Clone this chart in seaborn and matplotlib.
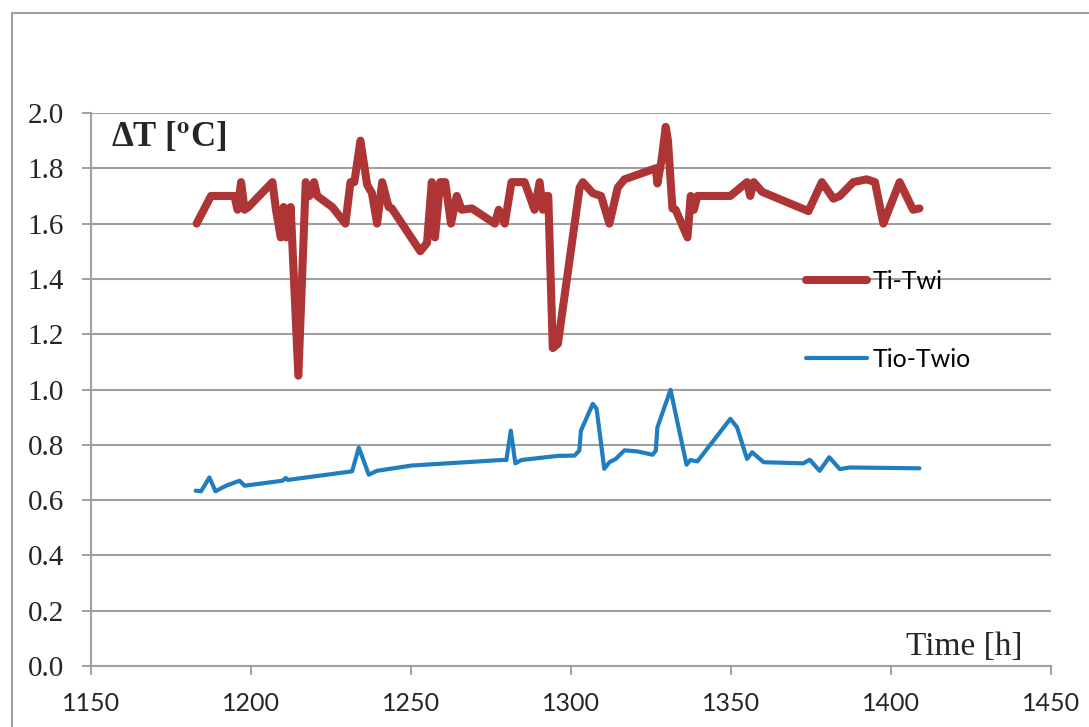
import matplotlib
matplotlib.use("Agg")
import matplotlib.pyplot as plt
import seaborn as sns
import pandas as pd
from matplotlib.patches import Rectangle

# ---- data ----
time_titwi = [1183, 1187.5, 1192.7, 1194.8, 1195.8, 1196.9, 1198, 1199.2, 1206.7, 1207.8,
              1209.3, 1210.2, 1211, 1212.4, 1214.8, 1217.1, 1218.3, 1219.7, 1220.7, 1225.4,
              1229.5, 1231.1, 1232.3, 1234.2, 1236.3, 1237.8, 1239.4, 1241, 1243, 1244,
              1252.9, 1255, 1256.5, 1257.5, 1259.1, 1260.7, 1262.5, 1264.3, 1265.8, 1269,
              1276.2, 1277.4, 1279.3, 1281.4, 1285.5, 1288.6, 1290.2, 1291.2, 1292.3, 1292.9,
              1294.3, 1295.9, 1302.7, 1303.7, 1306.8, 1309.4, 1312, 1314.6, 1316.7, 1326.5,
              1327, 1328.3, 1329.6, 1330.3, 1331.7, 1332.7, 1336.4, 1337.4, 1338.4, 1339.5,
              1349.8, 1355, 1356, 1357.1, 1359.7, 1374.2, 1378.4, 1382, 1384, 1388.2,
              1392.4, 1395, 1397.6, 1402.7, 1406.9, 1408.9]
val_titwi = [1.60, 1.70, 1.70, 1.70, 1.65, 1.75, 1.65, 1.66, 1.75, 1.65,
             1.55, 1.66, 1.55, 1.66, 1.05, 1.75, 1.70, 1.75, 1.70, 1.66,
             1.60, 1.75, 1.75, 1.90, 1.74, 1.71, 1.60, 1.75, 1.66, 1.655,
             1.50, 1.53, 1.75, 1.55, 1.75, 1.75, 1.60, 1.70, 1.65, 1.655,
             1.60, 1.65, 1.60, 1.75, 1.75, 1.65, 1.75, 1.65, 1.70, 1.70,
             1.15, 1.165, 1.73, 1.75, 1.71, 1.70, 1.60, 1.73, 1.76, 1.80,
             1.745, 1.83, 1.95, 1.90, 1.655, 1.65, 1.55, 1.70, 1.65, 1.70,
             1.70, 1.75, 1.70, 1.75, 1.715, 1.645, 1.75, 1.69, 1.70, 1.75,
             1.76, 1.75, 1.60, 1.75, 1.65, 1.655]

time_tiotwio = [1182.7, 1184.4, 1187, 1188.9, 1192.2, 1196.4, 1198, 1209.8, 1210.9, 1211.5,
                1231.6, 1233.7, 1236.8, 1239.4, 1250.2, 1278.3, 1279.8, 1281.2, 1282.6, 1284.5,
                1295.9, 1301.1, 1302.6, 1303.1, 1306.8, 1308, 1310.4, 1312, 1314, 1316.7,
                1320.8, 1325.5, 1326.5, 1327, 1331.1, 1336.1, 1337.3, 1339.5, 1349.8, 1351.9,
                1355, 1356.6, 1360.2, 1372.6, 1374.6, 1377.7, 1380.7, 1384, 1387.1, 1408.9]
val_tiotwio = [0.634, 0.632, 0.682, 0.632, 0.652, 0.670, 0.652, 0.670, 0.680, 0.673,
               0.704, 0.790, 0.692, 0.706, 0.725, 0.745, 0.745, 0.851, 0.733, 0.745,
               0.760, 0.761, 0.779, 0.851, 0.948, 0.930, 0.713, 0.737, 0.749, 0.780,
               0.776, 0.764, 0.779, 0.863, 0.999, 0.728, 0.745, 0.740, 0.894, 0.863,
               0.749, 0.773, 0.737, 0.733, 0.746, 0.706, 0.755, 0.712, 0.718, 0.715]

series_names = ["Ti-Twi", "Tio-Twio"]
series_colors = ["#AE3535", "#1F7DC0"]
x_ticks = [1150, 1200, 1250, 1300, 1350, 1400, 1450]
y_ticks = [0.0, 0.2, 0.4, 0.6, 0.8, 1.0, 1.2, 1.4, 1.6, 1.8, 2.0]

# ---- plot ----
sns.set_theme(style="white")
plt.rcParams["mathtext.fontset"] = "stix"

fig = plt.figure(figsize=(10.89, 7.27), dpi=100)
ax = fig.add_axes([91 / 1089, 1 - 666 / 727, 960 / 1089, 553 / 727])

df1 = pd.DataFrame({"t": time_titwi, "v": val_titwi})
df2 = pd.DataFrame({"t": time_tiotwio, "v": val_tiotwio})

grid_c = "#A0A0A0"
for yv in y_ticks:
    ax.axhline(yv, color=grid_c, lw=1.5, zorder=0)

sns.lineplot(data=df1, x="t", y="v", ax=ax, sort=False, estimator=None,
             color=series_colors[0], lw=5.8, label=series_names[0],
             solid_joinstyle="round", solid_capstyle="round")
sns.lineplot(data=df2, x="t", y="v", ax=ax, sort=False, estimator=None,
             color=series_colors[1], lw=3.0, label=series_names[1],
             solid_joinstyle="round", solid_capstyle="round")

ax.set_xlim(1150, 1450)
ax.set_ylim(0, 2.0)
ax.set_xticks(x_ticks)
ax.set_yticks(y_ticks)
ax.set_yticklabels([f"{v:.1f}" for v in y_ticks], fontfamily="Liberation Serif", fontsize=21)
ax.set_xticklabels([str(v) for v in x_ticks], fontfamily="Lato", fontsize=18)
ax.set_xlabel("")
ax.set_ylabel("")
ax.tick_params(axis="both", which="both", direction="out", length=6.5, width=1.4,
               color=grid_c, bottom=True, left=True)
ax.tick_params(axis="y", pad=13)
ax.tick_params(axis="x", pad=12)
for side in ["top", "right"]:
    ax.spines[side].set_visible(False)
for side in ["left", "bottom"]:
    ax.spines[side].set_color(grid_c)
    ax.spines[side].set_linewidth(1.5)
ax.set_facecolor("white")

ax.text(111 / 1089, 1 - 137 / 727, r"ΔT [$^{\mathbf{o}}$C]", transform=fig.transFigure,
        fontfamily="Liberation Serif", fontweight="bold", fontsize=25, va="center", ha="left")
ax.text(1022 / 1089, 1 - 647 / 727, "Time [h]", transform=fig.transFigure,
        fontfamily="Liberation Serif", fontsize=24, va="center", ha="right")

leg = ax.legend(loc="upper left", bbox_to_anchor=(806 / 1089, 1 - 270 / 727),
                bbox_transform=fig.transFigure, frameon=False, borderpad=0,
                borderaxespad=0, handlelength=2.45, handletextpad=0.2,
                labelspacing=2.2, prop={"family": "Lato", "size": 18})
for t in leg.get_texts():
    t.set_color("black")

fig.add_artist(Rectangle((12 / 1089, -0.1), 1.2, 1.1 - 13 / 727, transform=fig.transFigure,
                         fill=False, edgecolor=grid_c, lw=1.5))

fig.savefig("out.png", dpi=100, facecolor="white")
